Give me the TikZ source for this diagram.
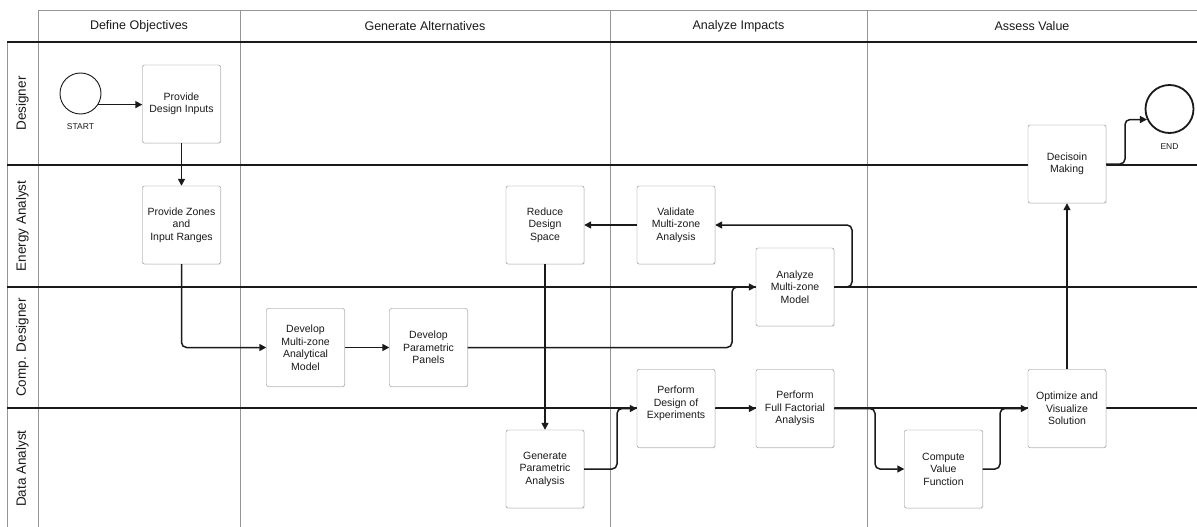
\documentclass[tikz,border=0pt]{standalone}
\usepackage{fontspec}
\setmainfont{Liberation Sans}
\usetikzlibrary{arrows.meta,shadows}
\definecolor{gridgray}{HTML}{959595}
\definecolor{boxgray}{HTML}{858585}
\definecolor{ink}{HTML}{1A1A1A}
\begin{document}
\begin{tikzpicture}[x=1pt,y=-1pt,
  laneline/.style={draw=ink, line width=1.2pt},
  gridline/.style={draw=gridgray, line width=1pt},
  task/.style={draw=boxgray, fill=white, rounded corners=2pt, minimum width=78pt, minimum height=78pt,
    inner sep=1pt, align=center, font=\fontsize{10.5}{12.5}\selectfont, text=ink,
    drop shadow={opacity=0.15, shadow xshift=0.8pt, shadow yshift=-0.8pt}},
  evt/.style={circle, draw=ink, fill=white, inner sep=0pt},
  flow/.style={draw=ink, line width=1.5pt, rounded corners=5pt, -{Triangle[length=7pt,width=7pt]}},
  hdr/.style={font=\fontsize{12.5}{14}\selectfont, text=ink},
  lanelbl/.style={font=\fontsize{13.5}{15}\selectfont, text=ink, rotate=90},
  small/.style={font=\fontsize{8.5}{10}\selectfont, text=ink}
]
\useasboundingbox (0,0) rectangle (1197,527);
\fill[white] (0,0) rectangle (1197,527);

% grid
\draw[gridline] (38,11) -- (1197,11);
\draw[gridline] (38,11) -- (38,527);
\draw[gridline] (7,42) -- (7,527);
\draw[gridline] (240,11) -- (240,527);
\draw[gridline] (610,11) -- (610,527);
\draw[gridline] (867,11) -- (867,527);
\draw[laneline] (7,42) -- (1197,42);
\draw[laneline] (7,165) -- (1197,165);
\draw[laneline] (7,287) -- (1197,287);
\draw[laneline] (7,408) -- (1197,408);

% headers
\node[hdr] (h1) at (139,26.5) {Define Objectives};
\node[hdr] (h2) at (425,26.5) {Generate Alternatives};
\node[hdr] (h3) at (738.5,26.5) {Analyze Impacts};
\node[hdr] (h4) at (1032,26.5) {Assess Value};

% lane labels
\node[lanelbl] (l1) at (22.5,103.5) {Designer};
\node[lanelbl] (l2) at (22.5,226) {Energy Analyst};
\node[lanelbl] (l3) at (22.5,347.5) {Comp. Designer};
\node[lanelbl] (l4) at (22.5,468.5) {Data Analyst};

% events
\node[evt, minimum size=41pt, line width=0.9pt] (start) at (80.5,93.5) {};
\node[small] (startlbl) at (80.5,127) {START};
\node[evt, minimum size=48pt, line width=1.8pt] (end) at (1169.5,109) {};
\node[small] (endlbl) at (1169.5,147) {END};

% tasks
\node[task] (inputs) at (181.5,104) {Provide\\Design Inputs};
\node[task] (zones) at (181.5,225) {Provide Zones\\and\\Input Ranges};
\node[task] (devmodel) at (305.5,347.5) {Develop\\Multi-zone\\Analytical\\Model};
\node[task] (panels) at (428.5,347.5) {Develop\\Parametric\\Panels};
\node[task] (reduce) at (545,225) {Reduce\\Design\\Space};
\node[task] (validate) at (676,225) {Validate\\Multi-zone\\Analysis};
\node[task] (analyze) at (795,287) {Analyze\\Multi-zone\\Model};
\node[task] (generate) at (545,469) {Generate\\Parametric\\Analysis};
\node[task] (doe) at (676,408.5) {Perform\\Design of\\Experiments\\~};
\node[task] (factorial) at (795,408.5) {Perform\\Full Factorial\\Analysis};
\node[task] (compute) at (943.5,469) {Compute\\Value\\Function};
\node[task] (optimize) at (1067,408.5) {Optimize and\\Visualize\\Solution};
\node[task] (decision) at (1067,164) {Decisoin\\Making};

% bend points
\coordinate (c1) at (732,347.5);
\coordinate (c2) at (852,287);
\coordinate (c3) at (617,469);
\coordinate (c4) at (875,408.5);
\coordinate (c5) at (1000,469);
\coordinate (c6) at (1125,164);

% flows
\draw[flow] (start.-32) -- (start.-32 -| inputs.west);
\draw[flow] (inputs.south) -- (zones.north);
\draw[flow] (zones.south) |- (devmodel.west);
\draw[flow] (devmodel.east) -- (panels.west);
\draw[flow] (panels.east) -- (c1) |- (analyze.west);
\draw[flow] (analyze.east) -- (c2) |- (validate.east);
\draw[flow] (validate.west) -- (reduce.east);
\draw[flow] (reduce.south) -- (generate.north);
\draw[flow] (generate.east) -- (c3) |- (doe.west);
\draw[flow] (doe.east) -- (factorial.west);
\draw[flow] (factorial.east) -- (c4) |- (compute.west);
\draw[flow] (compute.east) -- (c5) |- (optimize.west);
\draw[flow] (optimize.north) -- (decision.south);
\draw[flow] (decision.east) -- (c6) |- (end.205);
\end{tikzpicture}
\end{document}
